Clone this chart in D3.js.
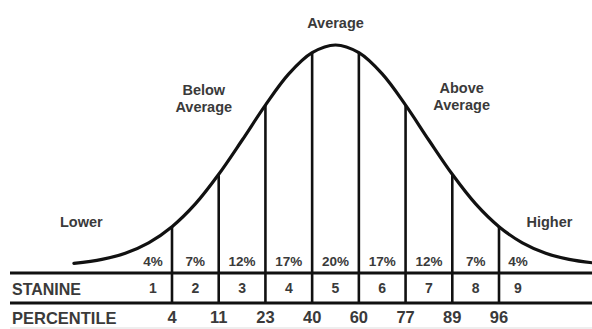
<!DOCTYPE html>
<html>
<head>
<meta charset="utf-8">
<script src="https://cdn.jsdelivr.net/npm/d3@7"></script>
<style>
  html, body { margin: 0; padding: 0; background: #fff; }
  svg { display: block; }
  text { font-family: "Liberation Sans", Arial, sans-serif; font-weight: bold; fill: #3a3a3a; }
</style>
</head>
<body>
<script>
// ---- data ----
const stanines = [1, 2, 3, 4, 5, 6, 7, 8, 9];
const percents = ["4%", "7%", "12%", "17%", "20%", "17%", "12%", "7%", "4%"];
const percentiles = [4, 11, 23, 40, 60, 77, 89, 96];
const boundaries = [-1.75, -1.25, -0.75, -0.25, 0.25, 0.75, 1.25, 1.75];
const curveZ = [-2.8, -2.5, -2.25, -2, -1.75, -1.5, -1.25, -1, -0.75, -0.5, -0.25, 0,
                0.25, 0.5, 0.75, 1, 1.25, 1.5, 1.75, 2, 2.25, 2.5, 2.8];
const curveH = [1.2, 3.0, 5.8, 10.5, 17.8, 28.1, 41.5, 56.9, 72.8, 86.9, 96.5, 100,
                96.5, 86.9, 72.8, 56.9, 41.5, 28.1, 17.8, 10.5, 5.8, 3.0, 1.2];
const bandLabels = [
  { lines: ["Lower"], z: -2.72 },
  { lines: ["Below", "Average"], z: -1.41 },
  { lines: ["Average"], z: 0 },
  { lines: ["Above", "Average"], z: 1.35 },
  { lines: ["Higher"], z: 2.29 }
];

// ---- layout ----
const W = 592, H = 329;
const svg = d3.select("body").append("svg").attr("width", W).attr("height", H);

const x = d3.scaleLinear().domain([-1.75, 1.75]).range([172, 499]);
const y = d3.scaleLinear().domain([0, 100]).range([266, 45]);

const rowTop = 273, rowMid = 303;

// curve
const curvePts = curveZ.map((z, i) => [z, curveH[i]]);
svg.append("path")
  .datum(curvePts)
  .attr("d", d3.line().x(d => x(d[0])).y(d => y(d[1])).curve(d3.curveCatmullRom.alpha(0.5)))
  .attr("fill", "none").attr("stroke", "#111").attr("stroke-width", 3.2)
  .attr("stroke-linecap", "round");

// vertical dividers
svg.selectAll("line.div").data(boundaries).join("line")
  .attr("class", "div")
  .attr("x1", d => x(d)).attr("x2", d => x(d))
  .attr("y1", d => y(curveH[curveZ.indexOf(d)]))
  .attr("y2", rowMid)
  .attr("stroke", "#111").attr("stroke-width", 2.6);

// horizontal table lines
[rowTop, rowMid].forEach(yy => {
  svg.append("line").attr("x1", 10).attr("x2", W).attr("y1", yy).attr("y2", yy)
    .attr("stroke", "#111").attr("stroke-width", 3);
});
svg.append("line").attr("x1", 10).attr("x2", W).attr("y1", 328).attr("y2", 328)
  .attr("stroke", "#ddd").attr("stroke-width", 1);

// cell centers
function cellCenter(i) {
  if (i === 0) return x(boundaries[0]) - 19;
  if (i === stanines.length - 1) return x(boundaries[boundaries.length - 1]) + 19;
  return (x(boundaries[i - 1]) + x(boundaries[i])) / 2;
}

// percent labels
svg.selectAll("text.pct").data(percents).join("text")
  .attr("class", "pct")
  .attr("x", (d, i) => cellCenter(i)).attr("y", 266)
  .attr("text-anchor", "middle").attr("font-size", 13.5)
  .text(d => d);

// stanine numbers
svg.selectAll("text.stn").data(stanines).join("text")
  .attr("class", "stn")
  .attr("x", (d, i) => cellCenter(i)).attr("y", 293)
  .attr("text-anchor", "middle").attr("font-size", 14)
  .text(d => d);

// percentile numbers
svg.selectAll("text.pctl").data(percentiles).join("text")
  .attr("class", "pctl")
  .attr("x", (d, i) => x(boundaries[i])).attr("y", 323)
  .attr("text-anchor", "middle").attr("font-size", 16.5)
  .text(d => d);

// row headers
svg.append("text").attr("x", 12).attr("y", 295).attr("font-size", 16).text("STANINE");
svg.append("text").attr("x", 12).attr("y", 324).attr("font-size", 16.5).text("PERCENTILE");

// band labels
const labelY = { "Lower": 227, "Higher": 227, "Average": 28 };
bandLabels.forEach(b => {
  const t = svg.append("text").attr("text-anchor", "middle").attr("font-size", 14.5)
    .attr("x", x(b.z));
  if (b.lines.length === 1) {
    t.attr("y", labelY[b.lines[0]]).text(b.lines[0]);
  } else {
    const y0 = b.z < 0 ? 95 : 93;
    b.lines.forEach((s, k) => {
      t.append("tspan").attr("x", x(b.z)).attr("y", y0 + k * 17).text(s);
    });
  }
});
</script>
</body>
</html>
